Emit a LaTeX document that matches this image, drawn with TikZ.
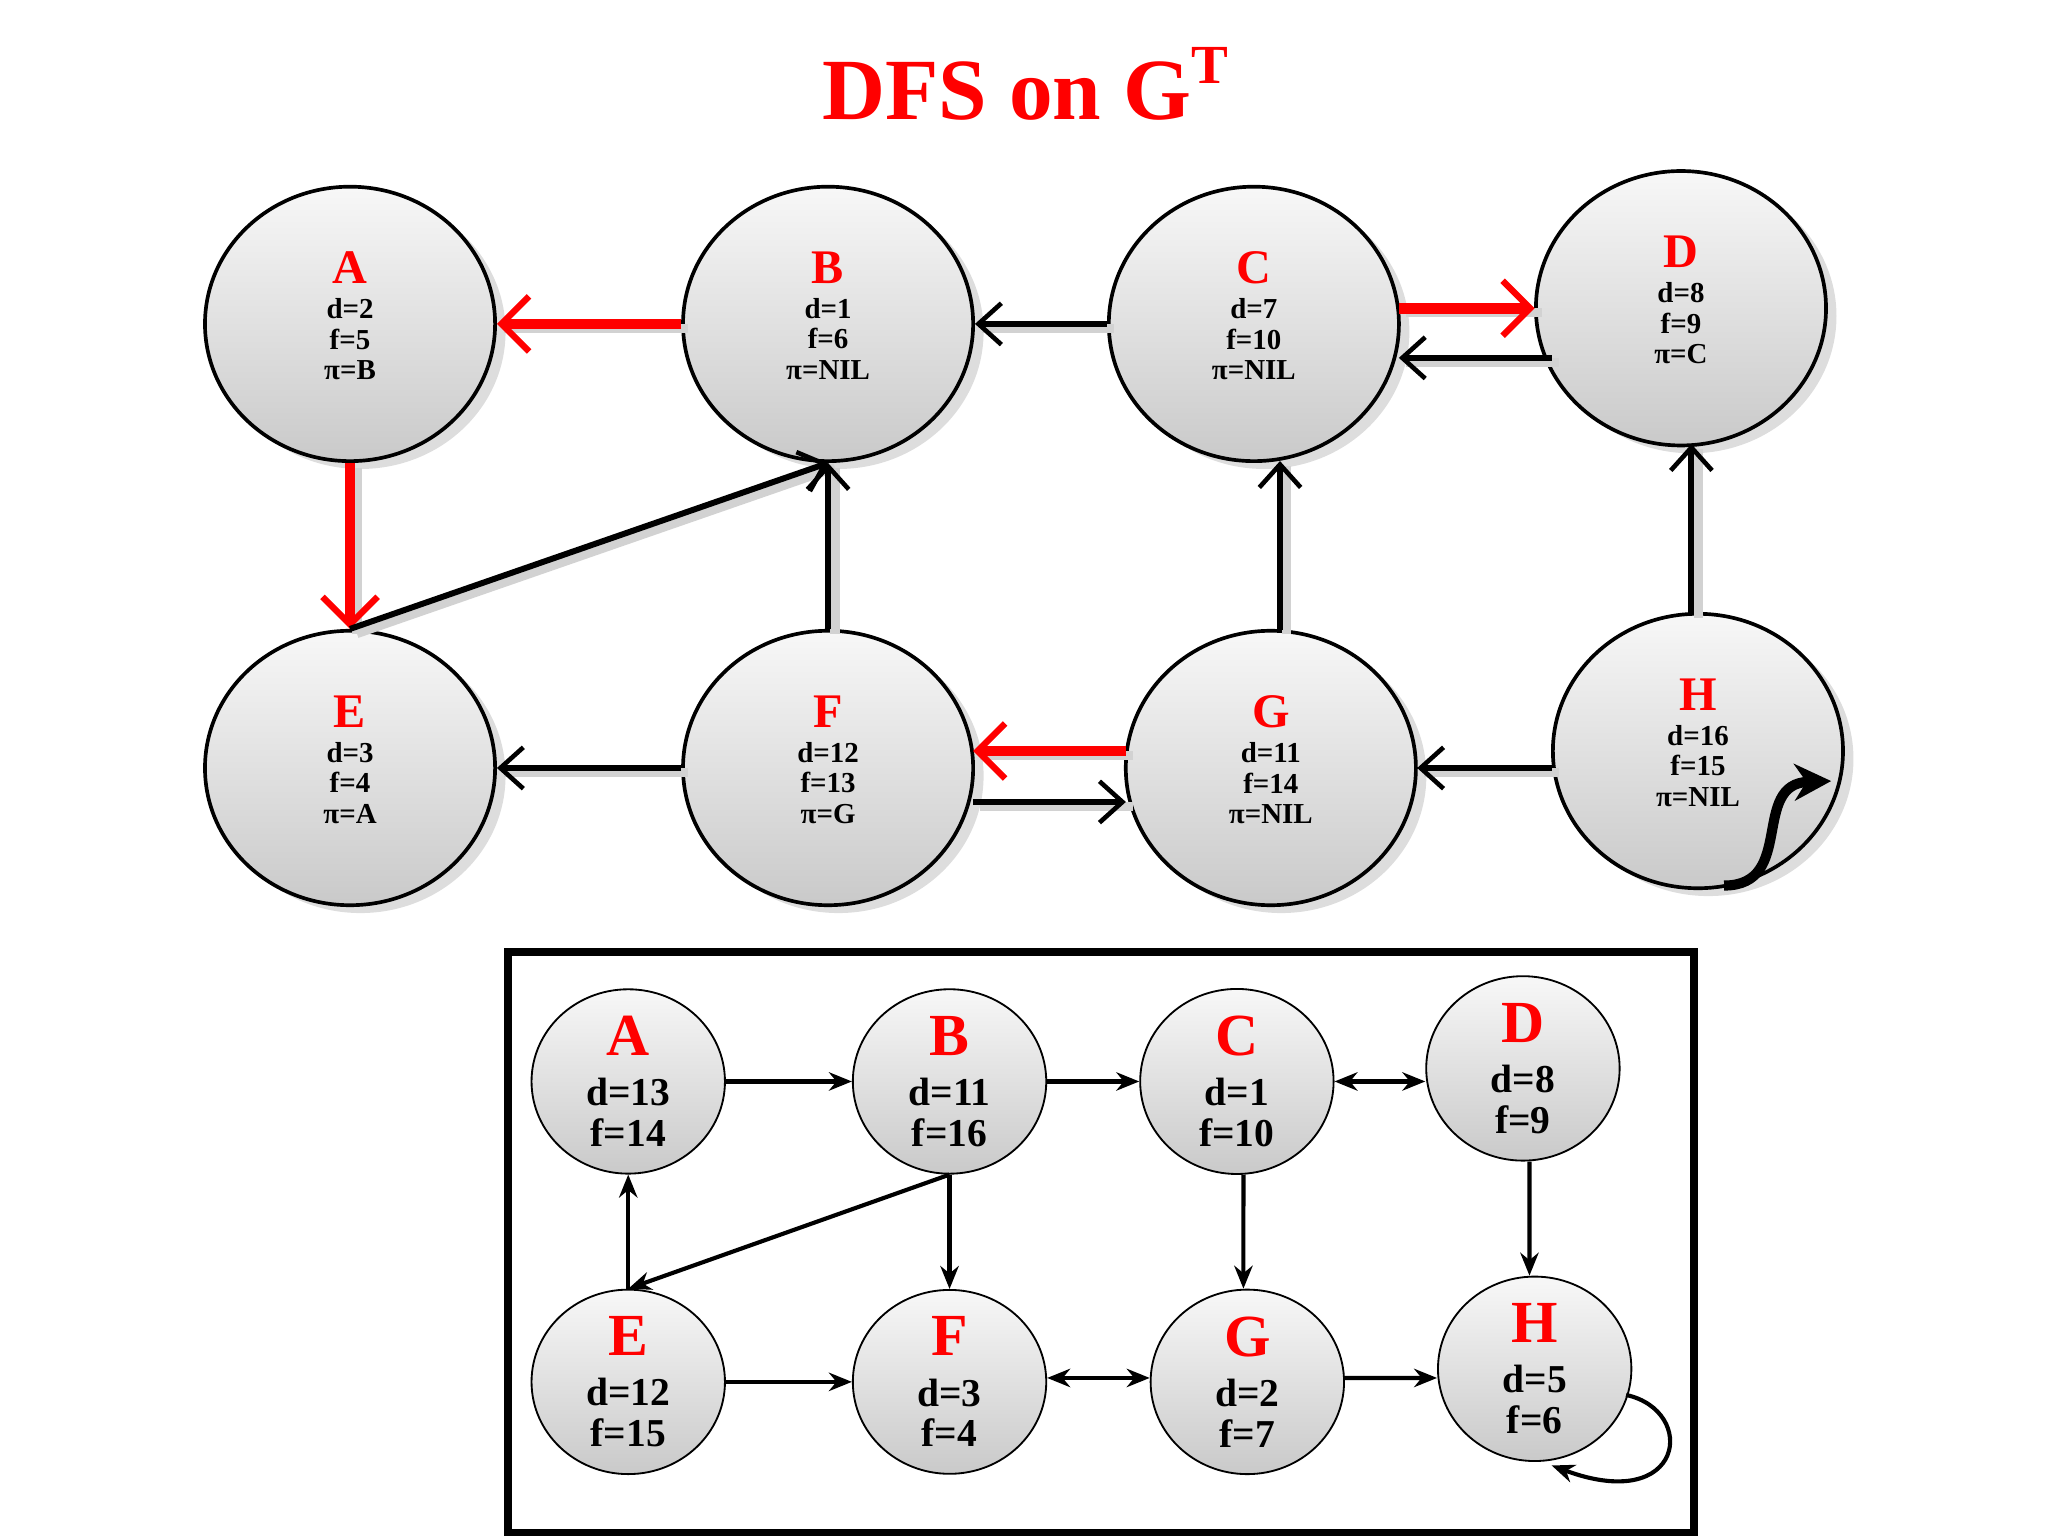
\documentclass[tikz,border=0pt]{standalone}
\usepackage{fontspec}
\setmainfont{Liberation Serif}
\usetikzlibrary{arrows.meta,shadows,shapes.geometric}
\begin{document}
\begin{tikzpicture}[x=0.01cm,y=-0.01cm,
 big/.style={ellipse,draw=black,thick,top color=gray!6,bottom color=gray!42,
   drop shadow={shadow xshift=0.08cm,shadow yshift=-0.06cm,fill=gray!45,opacity=0.6},
   align=center,font=\bfseries\fontsize{6.3}{6.6}\selectfont,inner sep=0pt},
 sml/.style={ellipse,draw=black,top color=gray!6,bottom color=gray!42,
   align=center,font=\bfseries\fontsize{8.6}{8.9}\selectfont,inner sep=0pt},
 ar/.style={-{Straight Barb[length=5pt,width=9pt,line width=1pt]},line width=1.3pt,
   preaction={draw=gray!35,line width=2pt,transform canvas={xshift=1.5pt,yshift=-1pt},-}},
 rar/.style={ar,draw=red,line width=2.3pt,-{Straight Barb[length=6pt,width=12pt,line width=1.4pt]}},
 sar/.style={-{Stealth[length=5pt,width=4pt]},line width=0.9pt},
 dar/.style={{Stealth[length=5pt,width=4pt]}-{Stealth[length=5pt,width=4pt]},line width=0.9pt}]
\useasboundingbox (0,0) rectangle (1568,1176);
\node[text=red,font=\bfseries\fontsize{19}{20}\selectfont] (title) at (785,64) {DFS on G\raisebox{0.9ex}{\fontsize{12}{12}\selectfont T}};
\def\bn#1#2#3#4#5#6{\node[big,minimum width=2.22cm,minimum height=2.1cm] (#1) at (#2) {{\color{red}\fontsize{10.5}{11}\selectfont #3}\\[1pt]d=#4\\f=#5\\π=#6\\[-3pt]\mbox{}};}
\bn{A}{268,248}{A}{2}{5}{B}
\bn{B}{634,248}{B}{1}{6}{NIL}
\bn{C}{960,248}{C}{7}{10}{NIL}
\bn{D}{1287,236}{D}{8}{9}{C}
\bn{E}{268,588}{E}{3}{4}{A}
\bn{F}{634,588}{F}{12}{13}{G}
\bn{G}{973,588}{G}{11}{14}{NIL}
\bn{H}{1300,575}{H}{16}{15}{NIL}
\draw[rar] (B.west) -- (A.east);
\draw[rar] (A.south) -- (E.north);
\draw[ar] (C.west) -- (B.east);
\coordinate (cd1) at (1071,236); \coordinate (dc1) at (1175,236);
\coordinate (dc2) at (1188,274); \coordinate (cd2) at (1071,274);
\draw[rar] (cd1) -- (dc1);
\draw[ar] (dc2) -- (cd2);
\draw[ar] (E.north) -- (B.south);
\draw[ar] (F.north) -- (B.south);
\coordinate (g1) at (980,482); \coordinate (c2) at (980,353);
\draw[ar] (g1) -- (c2);
\coordinate (h1) at (1295,470); \coordinate (d2) at (1295,340);
\draw[ar] (h1) -- (d2);
\draw[ar] (F.west) -- (E.east);
\coordinate (gf1) at (862,575); \coordinate (gf2) at (745,575);
\draw[rar] (gf1) -- (gf2);
\coordinate (fg1) at (745,614); \coordinate (fg2) at (862,614);
\draw[ar] (fg1) -- (fg2);
\coordinate (hg1) at (1188,588); \coordinate (hg2) at (1085,588);
\draw[ar] (hg1) -- (hg2);
\coordinate (hl1) at (1320,678); \coordinate (hl2) at (1402,598);
\draw[line width=2.2pt,-{Stealth[length=8pt,width=8pt]}] (hl1) .. controls (1375,678) and (1340,600) .. (hl2);
\draw[line width=1.8pt] (389,729) rectangle (1297,1174);
\def\sn#1#2#3#4#5{\node[sml,minimum width=1.48cm,minimum height=1.4cm] (#1) at (#2) {{\color{red}\fontsize{13}{13}\selectfont #3}\\[2pt]d=#4\\f=#5};}
\sn{a}{481,828}{A}{13}{14}
\sn{b}{727,828}{B}{11}{16}
\sn{c}{947,828}{C}{1}{10}
\sn{d}{1166,818}{D}{8}{9}
\sn{e}{481,1058}{E}{12}{15}
\sn{f}{727,1058}{F}{3}{4}
\sn{g}{955,1058}{G}{2}{7}
\sn{h}{1175,1048}{H}{5}{6}
\draw[sar] (a.east) -- (b.west);
\draw[sar] (b.east) -- (c.west);
\draw[dar] (c.east) -- (d.west|-c.east);
\draw[sar] (b.south) -- (f.north);
\draw[sar] (b.south) -- (e.north);
\draw[sar] (e.north) -- (a.south);
\draw[sar] ([xshift=0.05cm]c.south) -- ([xshift=-0.03cm]g.north);
\draw[sar] ([xshift=0.05cm]d.south) -- ([xshift=-0.04cm]h.north);
\draw[sar] (e.east) -- (f.west);
\draw[dar] ([yshift=0.03cm]f.east) -- ([yshift=0.03cm]g.west);
\draw[sar] ([yshift=0.03cm]g.east) -- ([yshift=-0.07cm]h.west);
\coordinate (s1) at (1245,1068); \coordinate (s2) at (1188,1122);
\draw[sar] (s1) .. controls (1300,1080) and (1290,1160) .. (s2);
\end{tikzpicture}
\end{document}
